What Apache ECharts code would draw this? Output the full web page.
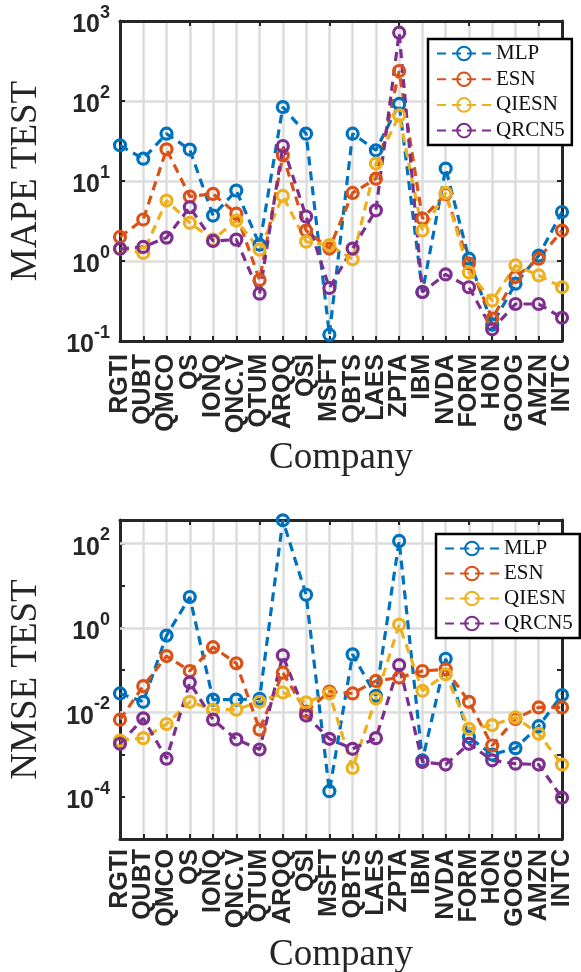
<!DOCTYPE html>
<html><head><meta charset="utf-8">
<script src="https://cdn.jsdelivr.net/npm/echarts@6/dist/echarts.min.js"></script>
<style>html,body{margin:0;padding:0;background:#fff}#c{width:581px;height:972px}</style>
</head><body><div id="c"></div>
<script>
const categories = ['RGTI','QUBT','QMCO','QS','IONQ','QNC.V','QTUM','ARQQ','QSI','MSFT','QBTS','LAES','ZPTA','IBM','NVDA','FORM','HON','GOOG','AMZN','INTC'];
const seriesNames = ['MLP','ESN','QIESN','QRCN5'];

const mapeMLP   = [27.9, 19, 39, 24.7, 3.7, 7.6, 1.6, 84, 39, 0.12, 39, 24.2, 92, 0.41, 14.3, 1.07, 0.16, 0.52, 1.17, 4.1];
const mapeESN   = [2.0, 3.3, 24.9, 6.4, 6.9, 3.9, 0.58, 21, 2.4, 1.43, 7.1, 10.7, 237, 3.4, 6.9, 0.93, 0.19, 0.63, 1.07, 2.4];
const mapeQIESN = [1.43, 1.26, 5.7, 3.0, 1.85, 3.2, 1.39, 6.5, 1.74, 1.58, 1.05, 16.5, 66, 2.4, 7.1, 0.72, 0.32, 0.88, 0.66, 0.47];
const mapeQRCN5 = [1.42, 1.5, 1.96, 4.7, 1.78, 1.85, 0.39, 27.4, 3.6, 0.46, 1.43, 4.3, 714, 0.41, 0.68, 0.47, 0.14, 0.29, 0.29, 0.195];

const nmseMLP   = [0.028, 0.0178, 0.66, 5.4, 0.020, 0.020, 0.021, 354, 6.1, 1.36e-4, 0.236, 0.0247, 115, 7.3e-4, 0.186, 2.6e-3, 1.0e-3, 1.42e-3, 4.7e-3, 0.0257];
const nmseESN   = [6.7e-3, 0.042, 0.215, 0.0955, 0.35, 0.145, 3.9e-3, 0.087, 0.0104, 0.031, 0.028, 0.0556, 0.0667, 0.0955, 0.105, 0.0178, 1.64e-3, 6.97e-3, 0.0131, 0.0131];
const nmseQIESN = [2.15e-3, 2.45e-3, 5.3e-3, 0.0178, 0.0116, 0.0116, 0.0178, 0.0295, 0.0172, 0.028, 4.8e-4, 0.0213, 1.2, 0.0324, 0.0797, 4.07e-3, 5.0e-3, 7.6e-3, 3.1e-3, 5.8e-4];
const nmseQRCN5 = [1.8e-3, 7.2e-3, 8.0e-4, 0.0508, 6.7e-3, 2.3e-3, 1.32e-3, 0.223, 8.4e-3, 2.36e-3, 1.37e-3, 2.45e-3, 0.132, 6.7e-4, 5.8e-4, 1.8e-3, 7.3e-4, 6.1e-4, 5.8e-4, 9.5e-5];

const nmseGridDecades = [1e-4, 1e-2, 1, 100];

const colors = ['#0072BD','#D95319','#EDB120','#7E2F8E'];
const frame = '#262626';
const gridGray = '#dddddd';
const sans = 'Liberation Sans';
const serif = 'Liberation Serif';

const chart = echarts.init(document.getElementById('c'));

const rich = {
  a: {fontFamily: sans, fontWeight: 'bold', fontSize: 25, color: frame, lineHeight: 34, verticalAlign: 'bottom'},
  b: {fontFamily: sans, fontWeight: 'bold', fontSize: 18, color: frame, lineHeight: 18, verticalAlign: 'top'}
};
function expLabel(every) {
  return function (v) {
    const e = Math.log10(v);
    const r = Math.round(e);
    if (Math.abs(e - r) > 1e-6) return '';
    if (r % every !== 0) return '';
    return '{a|10}{b|' + r + '}';
  };
}

function catAxis(gridIndex, showLabels, labelMargin, nameGap) {
  return {
    type: 'category', gridIndex: gridIndex, data: categories, boundaryGap: false,
    position: showLabels ? 'bottom' : 'top',
    axisLine: {show: true, lineStyle: {color: frame, width: 3}},
    axisTick: {show: true, inside: true, length: 5, alignWithLabel: true, lineStyle: {color: frame, width: 2}},
    axisLabel: showLabels ? {interval: 0, rotate: 90, margin: labelMargin, fontFamily: sans, fontWeight: 'bold', fontSize: 25, color: frame} : {show: false},
    splitLine: {show: showLabels, lineStyle: {color: gridGray, width: 2.5}},
    name: showLabels ? 'Company' : '',
    nameLocation: 'middle', nameGap: nameGap,
    nameTextStyle: {fontFamily: serif, fontSize: 37, color: frame}
  };
}
function logAxis(gridIndex, min, max, left, name, splitShow, every) {
  return {
    type: 'log', logBase: 10, gridIndex: gridIndex, min: min, max: max, interval: 1, splitNumber: 5,
    position: left ? 'left' : 'right',
    axisLine: {show: true, lineStyle: {color: frame, width: 3}},
    axisTick: {show: true, inside: true, length: 5, lineStyle: {color: frame, width: 2}},
    axisLabel: left ? {formatter: expLabel(every), rich: rich, margin: 10, showMaxLabel: true} : {show: false},
    splitLine: {show: left && splitShow, lineStyle: {color: gridGray, width: 2.5}},
    name: left ? name : '',
    nameLocation: 'middle', nameGap: 75, nameRotate: 90,
    nameTextStyle: {fontFamily: serif, fontSize: 37, color: frame}
  };
}

function mkSeries(name, data, color, axisIdx) {
  return {
    type: 'line', name: name, data: data,
    xAxisIndex: axisIdx, yAxisIndex: axisIdx,
    symbol: 'circle', symbolSize: 11,
    itemStyle: {color: 'rgba(255,255,255,0)', borderColor: color, borderWidth: 3.2},
    lineStyle: {color: color, width: 3.2, type: [9, 6]},
    emphasis: {disabled: true}, z: 3
  };
}

const mapeData = [mapeMLP, mapeESN, mapeQIESN, mapeQRCN5];
const nmseData = [nmseMLP, nmseESN, nmseQIESN, nmseQRCN5];
const series = [];
seriesNames.forEach((n, i) => series.push(mkSeries(n, mapeData[i], colors[i], 0)));
seriesNames.forEach((n, i) => series.push(mkSeries(n, nmseData[i], colors[i], 2)));
// grid lines of the NMSE panel at every second decade
series.push({
  type: 'line', name: 'grid', data: [], xAxisIndex: 2, yAxisIndex: 2, z: 1, silent: true,
  markLine: {silent: true, z: 1, symbol: ['none','none'], label: {show: false},
    lineStyle: {color: gridGray, width: 2.5, type: 'solid'},
    emphasis: {disabled: true},
    data: nmseGridDecades.map(v => ({yAxis: v}))}
});

function legend(left, top, itemGap) {
  return {
    data: seriesNames, orient: 'vertical', left: left, top: top, z: 10,
    backgroundColor: '#fff', borderColor: '#000', borderWidth: 2.5, borderRadius: 0,
    padding: [4, 7, 4, 8], itemGap: itemGap, itemWidth: 54, itemHeight: 17,
    textStyle: {fontFamily: serif, fontSize: 21, color: '#111', lineHeight: 20},
    selectedMode: false
  };
}

chart.setOption({
  animation: false,
  backgroundColor: '#fff',
  grid: [
    {left: 120, right: 19, top: 21, height: 320, containLabel: false, outerBoundsMode: 'none'},
    {left: 120, right: 19, top: 520, height: 319, containLabel: false, outerBoundsMode: 'none'}
  ],
  xAxis: [catAxis(0, true, 13, 99), catAxis(0, false, 0, 0), catAxis(1, true, 10, 98), catAxis(1, false, 0, 0)],
  yAxis: [
    logAxis(0, 0.1, 1000, true, 'MAPE TEST', true, 1),
    logAxis(0, 0.1, 1000, false, '', false, 1),
    logAxis(1, 1e-5, 360, true, 'NMSE TEST', false, 2),
    logAxis(1, 1e-5, 360, false, '', false, 2)
  ],
  legend: [legend(428, 39, 4.7), legend(436, 534, 4)],
  series: series
});
</script>
</body></html>
